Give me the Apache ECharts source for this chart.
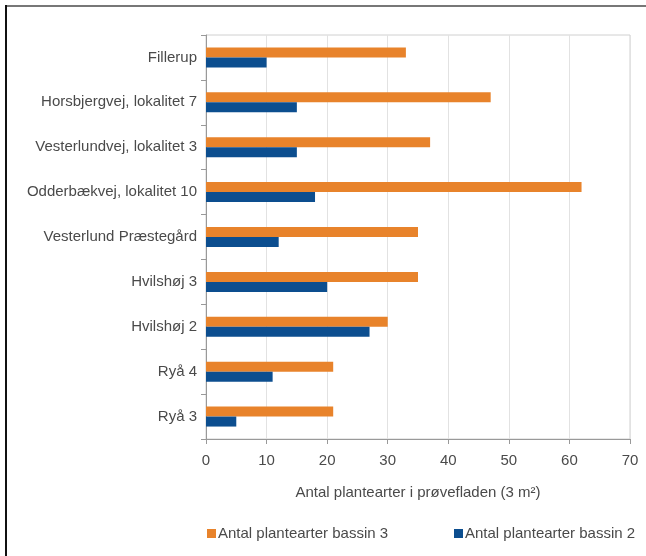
<!DOCTYPE html>
<html>
<head>
<meta charset="utf-8">
<script src="https://cdn.jsdelivr.net/npm/echarts@6/dist/echarts.min.js"></script>
<style>html,body{margin:0;padding:0;background:#fff}#c{width:646px;height:556px}</style>
</head>
<body>
<div id="c"></div>
<script>
const categories = ["Fillerup", "Horsbjergvej, lokalitet 7", "Vesterlundvej, lokalitet 3", "Odderbækvej, lokalitet 10", "Vesterlund Præstegård", "Hvilshøj 3", "Hvilshøj 2", "Ryå 4", "Ryå 3"];
const bassin3 = [33, 47, 37, 62, 35, 35, 30, 21, 21];
const bassin2 = [10, 15, 15, 18, 12, 20, 27, 11, 5];
const seriesNames = ["Antal plantearter bassin 3", "Antal plantearter bassin 2"];
const xTicks = { min: 0, max: 70, interval: 10 };
const xName = "Antal plantearter i prøvefladen (3 m²)";

const chart = echarts.init(document.getElementById('c'), null, {renderer: 'canvas'});
const txt = '#4a4a4a';
const font = 'Liberation Sans, Arial, sans-serif';
const fs = 15;
chart.setOption({
  animation: false,
  backgroundColor: '#fff',
  textStyle: { fontFamily: font },
  grid: { left: 206, right: 16, top: 35, bottom: 117, show: true, borderColor: '#d0d0d0', borderWidth: 1 },
  xAxis: {
    type: 'value', min: xTicks.min, max: xTicks.max, interval: xTicks.interval,
    name: xName, nameLocation: 'middle', nameGap: 46,
    nameTextStyle: { color: txt, fontSize: fs, fontFamily: font },
    axisLine: { show: true, lineStyle: { color: '#999' } },
    axisTick: { show: true, length: 5, lineStyle: { color: '#999' } },
    axisLabel: { color: txt, fontSize: fs, margin: 14, fontFamily: font },
    splitLine: { show: true, lineStyle: { color: '#e2e2e2' } }
  },
  yAxis: {
    type: 'category', data: categories, inverse: true,
    axisLine: { show: true, lineStyle: { color: '#999' } },
    axisTick: { show: true, length: 5, lineStyle: { color: '#999' } },
    axisLabel: { color: txt, fontSize: fs, margin: 9, fontFamily: font },
    splitLine: { show: false }
  },
  legend: [
    { data: [seriesNames[0]], left: 202, top: 521, itemWidth: 9, itemHeight: 9, itemGap: 0,
      textStyle: { color: txt, fontSize: fs, fontFamily: font, padding: [0,0,0,-3] }, icon: 'rect' },
    { data: [seriesNames[1]], left: 449, top: 521, itemWidth: 9, itemHeight: 9, itemGap: 0,
      textStyle: { color: txt, fontSize: fs, fontFamily: font, padding: [0,0,0,-3] }, icon: 'rect' }
  ],
  series: [
    { name: seriesNames[0], type: 'bar', data: bassin3, barWidth: 10, barGap: '0%', itemStyle: { color: '#E8832B' } },
    { name: seriesNames[1], type: 'bar', data: bassin2, barWidth: 10, barGap: '0%', itemStyle: { color: '#0C4E8F' } }
  ],
  graphic: [
    { type: 'line', shape: { x1: 5, y1: 6, x2: 646, y2: 6 }, style: { stroke: '#777', lineWidth: 2 } },
    { type: 'line', shape: { x1: 6, y1: 5, x2: 6, y2: 556 }, style: { stroke: '#111', lineWidth: 2 } }
  ]
});
</script>
</body>
</html>
